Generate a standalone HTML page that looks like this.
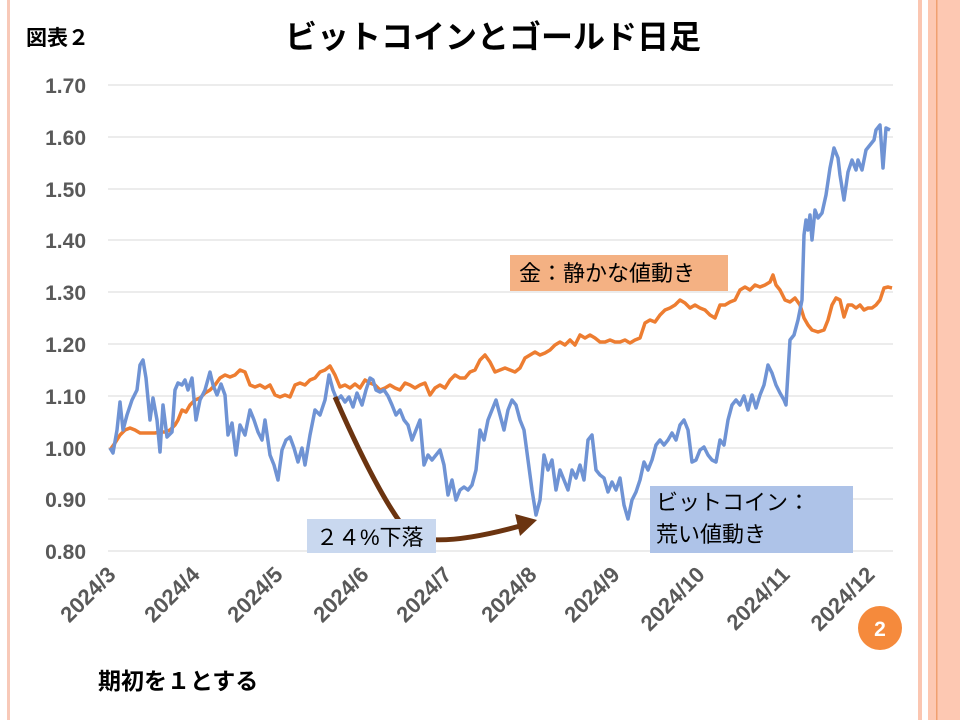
<!DOCTYPE html>
<html><head><meta charset="utf-8"><style>
html,body{margin:0;padding:0;background:#fff;}
body{width:960px;height:720px;position:relative;overflow:hidden;font-family:"Liberation Sans","Noto Sans CJK JP",sans-serif;}
</style></head><body>
<svg width="960" height="720" viewBox="0 0 960 720" xmlns="http://www.w3.org/2000/svg" style="position:absolute;left:0;top:0">
<rect x="7" y="0" width="3" height="720" fill="#f8c9b8"/>
<rect x="918" y="0" width="4" height="720" fill="#fbc6b1"/>
<rect x="928" y="0" width="32" height="720" fill="#fdc8b2"/>
<rect x="936" y="0" width="1.5" height="720" fill="#f0a070"/>
<g stroke="#d9d9d9" stroke-width="1">
<line x1="108" y1="85" x2="893" y2="85"/><line x1="108" y1="137" x2="893" y2="137"/>
<line x1="108" y1="189" x2="893" y2="189"/><line x1="108" y1="240" x2="893" y2="240"/>
<line x1="108" y1="292" x2="893" y2="292"/><line x1="108" y1="344" x2="893" y2="344"/>
<line x1="108" y1="396" x2="893" y2="396"/><line x1="108" y1="448" x2="893" y2="448"/>
<line x1="108" y1="499" x2="893" y2="499"/><line x1="108" y1="551" x2="893" y2="551"/>
</g>
<g font-size="21" font-weight="bold" fill="#595959" text-anchor="end">
<text x="86" y="93">1.70</text><text x="86" y="145">1.60</text><text x="86" y="197">1.50</text>
<text x="86" y="248">1.40</text><text x="86" y="300">1.30</text><text x="86" y="352">1.20</text>
<text x="86" y="404">1.10</text><text x="86" y="456">1.00</text><text x="86" y="507">0.90</text>
<text x="86" y="559">0.80</text>
</g>
<g font-size="22" font-weight="bold" fill="#595959" text-anchor="end">
<text transform="translate(117,576) rotate(-45)">2024/3</text>
<text transform="translate(201,576) rotate(-45)">2024/4</text>
<text transform="translate(284,576) rotate(-45)">2024/5</text>
<text transform="translate(370,576) rotate(-45)">2024/6</text>
<text transform="translate(453,576) rotate(-45)">2024/7</text>
<text transform="translate(538,576) rotate(-45)">2024/8</text>
<text transform="translate(621,576) rotate(-45)">2024/9</text>
<text transform="translate(706,576) rotate(-45)">2024/10</text>
<text transform="translate(791,576) rotate(-45)">2024/11</text>
<text transform="translate(876,576) rotate(-45)">2024/12</text>
</g>
<polyline fill="none" stroke="#ed7d31" stroke-width="3.5" stroke-linejoin="round" points="110,450 115,443 120,435 125,430 130,428 135,430 140,433 145,433 150,433 155,433 160,432 165,432 170,430 175,425 178,420 182,410 186,412 190,405 195,400 200,398 205,393 210,390 215,385 220,378 225,375 230,377 235,375 240,370 245,372 250,385 255,387 260,385 265,388 270,385 275,395 280,397 285,395 290,397 295,385 300,383 305,385 310,380 315,378 320,372 325,370 330,366 335,375 340,387 345,385 350,388 355,384 360,388 365,380 370,383 375,385 380,390 385,388 390,385 395,388 400,390 405,383 410,385 415,388 420,385 425,383 430,395 435,388 440,385 445,388 450,380 455,375 460,378 465,378 470,372 475,370 480,360 485,355 490,362 495,372 500,370 505,368 510,370 515,372 520,368 525,358 530,355 535,352 540,355 545,353 550,350 555,345 560,342 565,345 570,340 575,345 580,335 585,338 590,335 595,338 600,342 605,342 610,340 615,342 620,342 625,340 630,343 635,340 640,338 645,323 650,320 655,322 660,315 665,310 670,308 675,305 680,300 685,303 690,308 695,305 700,308 705,310 710,315 715,318 720,305 725,305 730,302 735,300 740,290 745,287 750,290 755,285 760,287 765,285 770,282 773,275 776,285 780,290 785,300 790,302 795,298 800,305 804,318 808,325 812,330 818,332 824,330 828,320 832,305 836,298 840,300 844,317 848,305 852,305 856,308 860,305 864,310 868,308 872,308 876,305 880,300 884,288 888,287 892,288"/>
<polyline fill="none" stroke="#6f93d4" stroke-width="3.5" stroke-linejoin="round" points="110,448 113,453 117,430 120,402 123,430 127,415 132,400 137,390 140,365 143,360 146,378 150,420 153,398 157,420 160,452 163,405 167,437 172,432 175,390 178,383 182,385 185,380 188,390 192,378 196,420 200,400 205,390 210,372 213,385 217,395 221,384 225,395 228,435 232,423 236,455 240,425 245,435 250,410 254,420 258,432 262,440 265,420 270,455 274,465 278,480 282,450 286,440 290,437 294,448 298,462 302,448 305,465 310,435 315,410 320,415 325,400 329,375 333,390 337,400 341,396 345,402 349,397 353,407 357,393 362,405 366,390 370,378 373,380 376,390 380,392 384,390 388,396 392,405 396,415 400,410 404,420 408,425 412,440 416,430 420,420 424,465 428,455 432,460 436,455 440,450 444,465 448,495 452,480 456,500 460,490 464,487 468,490 472,485 476,470 480,430 484,440 488,420 492,410 496,400 500,415 504,430 508,410 512,400 516,405 520,420 524,430 528,460 532,490 536,515 540,500 544,455 548,470 552,460 556,490 560,470 564,480 568,490 572,470 576,478 580,465 584,480 588,440 592,435 596,470 600,475 604,478 608,492 612,482 616,490 620,478 624,505 628,519 632,500 636,492 640,480 644,462 648,470 652,460 656,445 660,440 664,445 668,440 672,433 676,440 680,425 684,420 688,430 692,462 696,460 700,450 704,447 708,455 712,460 716,462 720,440 724,445 728,420 732,405 736,400 740,405 744,396 748,410 752,395 756,408 760,395 764,385 768,365 772,373 776,385 780,393 784,400 786,405 790,340 794,335 798,320 802,300 804,235 806,220 808,230 810,215 812,240 815,210 818,218 822,213 826,195 830,168 834,148 838,158 840,175 844,200 848,172 852,160 856,170 858,160 862,170 866,150 870,145 874,140 876,130 880,125 883,168 886,128 890,130"/>
<path d="M335,397 Q380,500 410,535 Q440,548 520,526" fill="none" stroke="#6b3410" stroke-width="5"/>
<polygon points="537,520 515,514 520,536" fill="#6b3410"/>
<rect x="307" y="519" width="129" height="34" fill="#c9d8ef"/>
<text x="316" y="545" font-size="22" fill="#000">２４%下落</text>
<rect x="510" y="255" width="218" height="36" fill="#f4b183"/>
<text x="519" y="281" font-size="22" fill="#000">金：静かな値動き</text>
<rect x="650" y="486" width="203" height="67" fill="#aec3e8"/>
<text x="656" y="510" font-size="22" fill="#000">ビットコイン：</text>
<text x="656" y="542" font-size="22" fill="#000">荒い値動き</text>
<circle cx="880" cy="628" r="22" fill="#f58a3c"/>
<text x="880" y="636" font-size="21" font-weight="bold" fill="#fff" text-anchor="middle">2</text>
<text x="26" y="45" font-size="21" font-weight="bold" fill="#000">図表２</text>
<text x="493" y="48" font-size="32" font-weight="bold" fill="#000" text-anchor="middle">ビットコインとゴールド日足</text>
<text x="98" y="689" font-size="23" font-weight="bold" fill="#000">期初を１とする</text>
</svg>
</body></html>
